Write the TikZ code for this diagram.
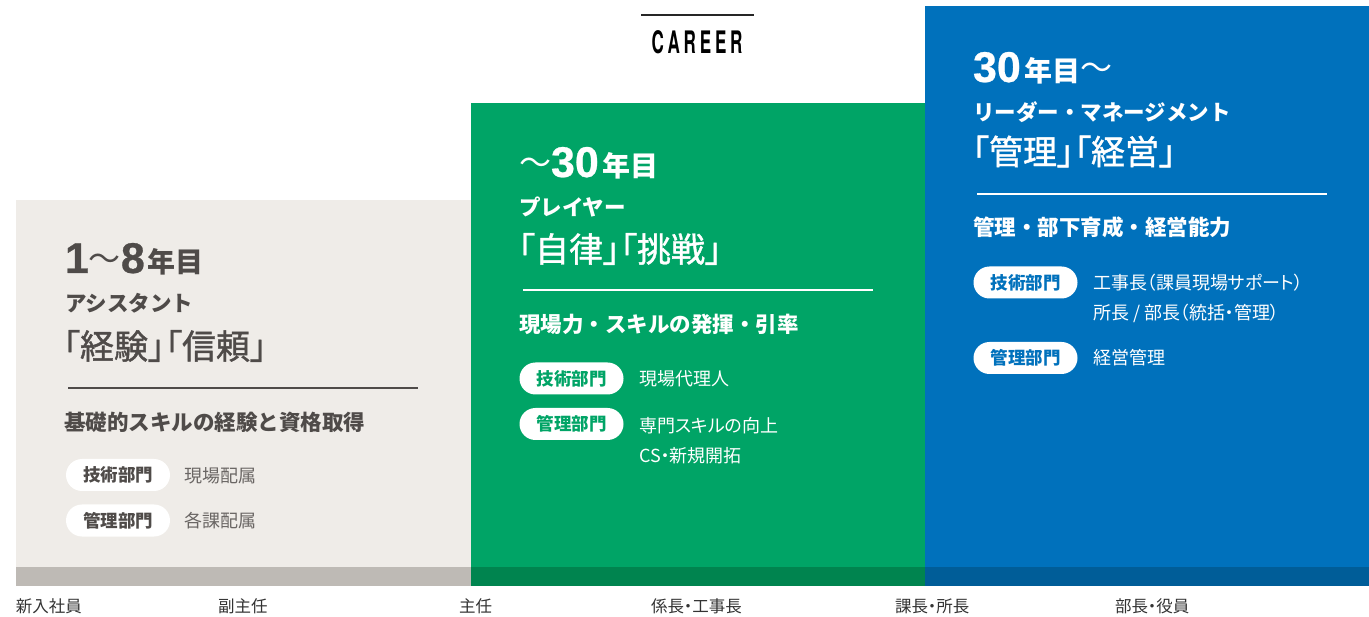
\documentclass[tikz,border=0pt]{standalone}
\usepackage{fontspec}
\setmainfont{Noto Sans CJK JP}
\newfontfamily\jpp[RawFeature=+palt]{Noto Sans CJK JP}
\newfontfamily\jpmed[RawFeature=+palt, FakeBold=1.2]{Noto Sans CJK JP}
\newfontfamily\digitfont[FakeBold=0.6]{Liberation Sans}
\newfontfamily\careerfont[FakeStretch=0.55]{TeX Gyre Heros}
\definecolor{graypanel}{HTML}{EFECE8}
\definecolor{graybar}{HTML}{BEBAB5}
\definecolor{greenpanel}{HTML}{00A466}
\definecolor{greenbar}{HTML}{00844F}
\definecolor{bluepanel}{HTML}{0071BC}
\definecolor{bluebar}{HTML}{005D98}
\definecolor{inkgray}{HTML}{4F4B49}
\definecolor{softgray}{HTML}{6A6664}
\definecolor{labelgray}{HTML}{333333}
\newcommand\fs[1]{\fontsize{#1}{#1}\selectfont}
\newcommand\yrnum[1]{{\digitfont\fs{43}\bfseries #1}}
\newcommand\yrkan[1]{{\fs{28}\bfseries #1}}
\newcommand\yrwave{{\fs{32}\raisebox{2pt}{～}}}
\tikzset{
  txt/.style={anchor=west, inner sep=0pt, outer sep=0pt},
  yeartxt/.style={anchor=base west, inner sep=0pt, outer sep=0pt},
  subtitle/.style={txt, font=\fs{21.5}\bfseries},
  keyword/.style={txt, font=\jpmed\fs{34}},
  focus/.style={txt, font=\fs{21.5}\bfseries},
  detail/.style={txt, font=\jpp\fs{18}},
  pill/.style={rounded corners=16pt, minimum width=104pt, minimum height=32pt,
    fill=white, inner sep=0pt, font=\fs{17.5}\bfseries},
  bottomlabel/.style={txt, font=\jpp\fs{16.5}, text=labelgray},
  rule/.style={line width=2.5pt},
}
\begin{document}
\begin{tikzpicture}[x=1pt,y=-1pt]
\useasboundingbox (0,0) rectangle (1369,617);
\fill[white] (0,0) rectangle (1369,617);
% panels
\fill[graypanel] (16,200) rectangle (471,567);
\fill[greenpanel] (471,103) rectangle (925,567);
\fill[bluepanel] (925,6.5) rectangle (1369,567);
\fill[graybar] (16,567) rectangle (471,586);
\fill[greenbar] (471,567) rectangle (925,586);
\fill[bluebar] (925,567) rectangle (1369,586);
% CAREER
\draw[line width=2.5pt, color=black!85] (641,15) -- (754,15);
\node[inner sep=0pt] (career) at (697,42.5) {\careerfont\bfseries\fs{31}C\kern3.8pt A\kern3.8pt R\kern3.8pt E\kern3.8pt E\kern3.8pt R};
% ===== gray panel =====
\begin{scope}[text=inkgray]
\node[yeartxt] (g-year) at (65,273) {\yrnum{1}\yrwave\yrnum{8}\kern3pt\yrkan{年目}};
\node[subtitle] (g-sub) at (65,303.5) {アシスタント};
\node[keyword] (g-key) at (63,346) {「経験」「信頼」};
\draw[rule, inkgray] (68,388) -- (418,388);
\node[focus] (g-focus) at (64,422) {基礎的スキルの経験と資格取得};
\node[pill, text=inkgray] (g-p1) at (118,475) {技術部門};
\node[detail, text=softgray] (g-d1) at (184,476) {現場配属};
\node[pill, text=inkgray] (g-p2) at (118,520.5) {管理部門};
\node[detail, text=softgray] (g-d2) at (184,521) {各課配属};
\end{scope}
% ===== green panel =====
\begin{scope}[text=white]
\node[yeartxt] (m-year) at (519,177) {\yrwave\yrnum{30}\kern4pt\yrkan{年目}};
\node[subtitle] (m-sub) at (519,207.5) {プレイヤー};
\node[keyword] (m-key) at (518,249) {「自律」「挑戦」};
\draw[rule, white] (523,290) -- (873,290);
\node[focus] (m-focus) at (519,324) {現場力・スキルの発揮・引率};
\node[pill, text=greenpanel] (m-p1) at (571.5,378.5) {技術部門};
\node[detail] (m-d1) at (639,379) {現場代理人};
\node[pill, text=greenpanel] (m-p2) at (571.5,424) {管理部門};
\node[detail] (m-d2) at (639,426) {専門スキルの向上};
\node[detail] (m-d3) at (639,456) {CS・新規開拓};
\end{scope}
% ===== blue panel =====
\begin{scope}[text=white]
\node[yeartxt] (b-year) at (973,82) {\yrnum{30}\kern4pt\yrkan{年目}\yrwave};
\node[subtitle] (b-sub) at (973,112.5) {リーダー・マネージメント};
\node[keyword] (b-key) at (972,151.5) {「管理」「経営」};
\draw[rule, white] (977,194) -- (1327,194);
\node[focus] (b-focus) at (973,227) {管理・部下育成・経営能力};
\node[pill, text=bluepanel] (b-p1) at (1025.5,282.5) {技術部門};
\node[detail] (b-d1) at (1093,283) {工事長（課員現場サポート）};
\node[detail] (b-d2) at (1093,313) {所長 / 部長（統括・管理）};
\node[pill, text=bluepanel] (b-p2) at (1025.5,358) {管理部門};
\node[detail] (b-d3) at (1093,358) {経営管理};
\end{scope}
% bottom labels
\node[bottomlabel] (l1) at (16,606.5) {新入社員};
\node[bottomlabel] (l2) at (218,606.5) {副主任};
\node[bottomlabel] (l3) at (459,606.5) {主任};
\node[bottomlabel] (l4) at (651,606.5) {係長・工事長};
\node[bottomlabel] (l5) at (895,606.5) {課長・所長};
\node[bottomlabel] (l6) at (1115,606.5) {部長・役員};
\end{tikzpicture}
\end{document}
